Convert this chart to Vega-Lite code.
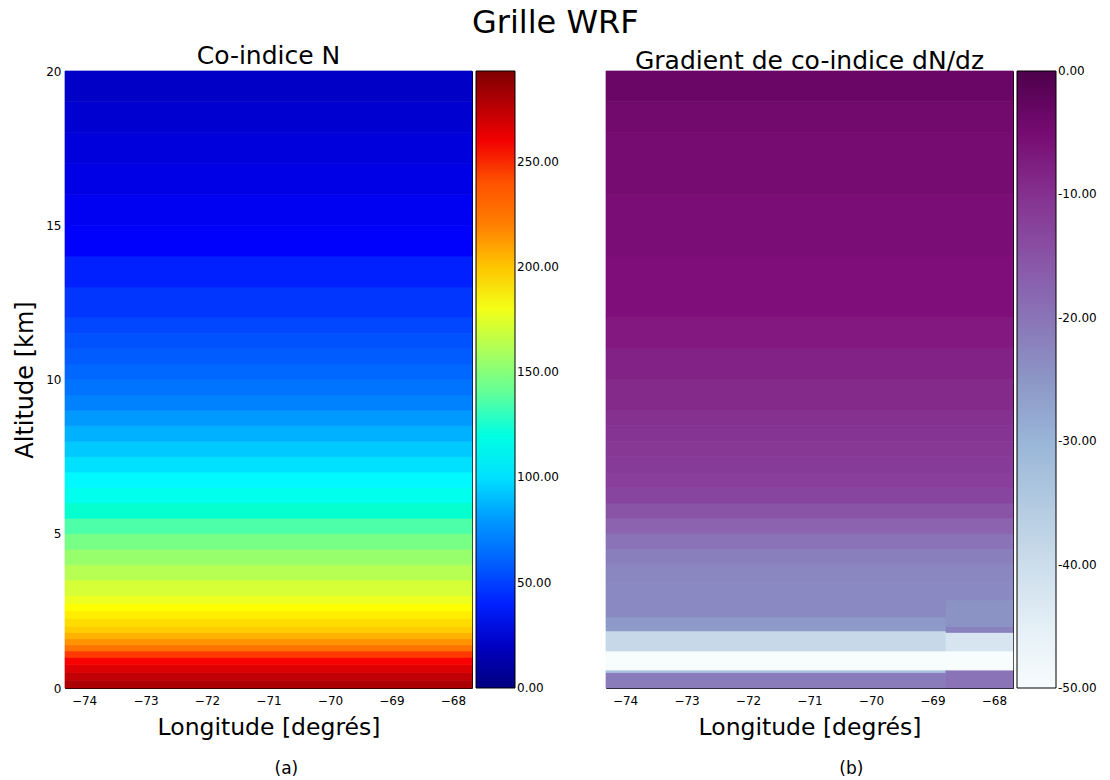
{
  "$schema": "https://vega.github.io/schema/vega-lite/v6.json",
  "background": "white",
  "padding": {"left": 13, "top": 6, "right": 5, "bottom": 5},
  "title": {"text": "Grille WRF", "fontSize": 32, "fontWeight": "normal", "anchor": "middle", "offset": 3.5, "color": "#000"},
  "config": {
    "font": "DejaVu Sans",
    "view": {"stroke": "#000", "strokeWidth": 1},
    "axis": {"zindex": 1, "domain": false, "ticks": true, "tickSize": -5, "tickColor": "#000", "tickWidth": 1, "labelPadding": 9, "labelFontSize": 12, "labelColor": "#000", "titleFontSize": 24, "titleFontWeight": "normal", "titleColor": "#000", "grid": false},
    "axisX": {"labelPadding": 12, "titlePadding": 9, "titleFontSize": 23.5},
    "axisY": {"titlePadding": 8},
    "legend": {"gradientLength": 617, "gradientThickness": 39, "gradientStrokeColor": "#000", "gradientStrokeWidth": 1, "labelFontSize": 12, "labelOffset": 4, "offset": 4, "padding": 0, "labelColor": "#000"},
    "title": {"fontWeight": "normal", "color": "#000"}
  },
  "datasets": {
    "n": [
      {"lon0": -74.31, "lon1": -67.69, "z0": 0, "z1": 0.25, "N": 280},
      {"lon0": -74.31, "lon1": -67.69, "z0": 0.25, "z1": 0.5, "N": 274},
      {"lon0": -74.31, "lon1": -67.69, "z0": 0.5, "z1": 0.75, "N": 266},
      {"lon0": -74.31, "lon1": -67.69, "z0": 0.75, "z1": 1.0, "N": 258},
      {"lon0": -74.31, "lon1": -67.69, "z0": 1.0, "z1": 1.2, "N": 248},
      {"lon0": -74.31, "lon1": -67.69, "z0": 1.2, "z1": 1.4, "N": 226},
      {"lon0": -74.31, "lon1": -67.69, "z0": 1.4, "z1": 1.6, "N": 214},
      {"lon0": -74.31, "lon1": -67.69, "z0": 1.6, "z1": 1.8, "N": 205},
      {"lon0": -74.31, "lon1": -67.69, "z0": 1.8, "z1": 2.0, "N": 198},
      {"lon0": -74.31, "lon1": -67.69, "z0": 2.0, "z1": 2.25, "N": 193},
      {"lon0": -74.31, "lon1": -67.69, "z0": 2.25, "z1": 2.5, "N": 188},
      {"lon0": -74.31, "lon1": -67.69, "z0": 2.5, "z1": 2.75, "N": 183},
      {"lon0": -74.31, "lon1": -67.69, "z0": 2.75, "z1": 3.0, "N": 178},
      {"lon0": -74.31, "lon1": -67.69, "z0": 3.0, "z1": 3.5, "N": 172},
      {"lon0": -74.31, "lon1": -67.69, "z0": 3.5, "z1": 4.0, "N": 163},
      {"lon0": -74.31, "lon1": -67.69, "z0": 4.0, "z1": 4.5, "N": 154},
      {"lon0": -74.31, "lon1": -67.69, "z0": 4.5, "z1": 5.0, "N": 145},
      {"lon0": -74.31, "lon1": -67.69, "z0": 5.0, "z1": 5.5, "N": 136},
      {"lon0": -74.31, "lon1": -67.69, "z0": 5.5, "z1": 6.0, "N": 126},
      {"lon0": -74.31, "lon1": -67.69, "z0": 6.0, "z1": 6.5, "N": 117},
      {"lon0": -74.31, "lon1": -67.69, "z0": 6.5, "z1": 7.0, "N": 108},
      {"lon0": -74.31, "lon1": -67.69, "z0": 7.0, "z1": 7.5, "N": 100},
      {"lon0": -74.31, "lon1": -67.69, "z0": 7.5, "z1": 8.0, "N": 93},
      {"lon0": -74.31, "lon1": -67.69, "z0": 8.0, "z1": 8.5, "N": 86},
      {"lon0": -74.31, "lon1": -67.69, "z0": 8.5, "z1": 9.0, "N": 80},
      {"lon0": -74.31, "lon1": -67.69, "z0": 9.0, "z1": 9.5, "N": 74},
      {"lon0": -74.31, "lon1": -67.69, "z0": 9.5, "z1": 10.0, "N": 68},
      {"lon0": -74.31, "lon1": -67.69, "z0": 10.0, "z1": 10.5, "N": 63},
      {"lon0": -74.31, "lon1": -67.69, "z0": 10.5, "z1": 11.0, "N": 58},
      {"lon0": -74.31, "lon1": -67.69, "z0": 11.0, "z1": 11.5, "N": 54},
      {"lon0": -74.31, "lon1": -67.69, "z0": 11.5, "z1": 12.0, "N": 50},
      {"lon0": -74.31, "lon1": -67.69, "z0": 12.0, "z1": 13.0, "N": 45},
      {"lon0": -74.31, "lon1": -67.69, "z0": 13.0, "z1": 14.0, "N": 40},
      {"lon0": -74.31, "lon1": -67.69, "z0": 14.0, "z1": 15.0, "N": 36},
      {"lon0": -74.31, "lon1": -67.69, "z0": 15.0, "z1": 16.0, "N": 33},
      {"lon0": -74.31, "lon1": -67.69, "z0": 16.0, "z1": 17.0, "N": 30},
      {"lon0": -74.31, "lon1": -67.69, "z0": 17.0, "z1": 18.0, "N": 27},
      {"lon0": -74.31, "lon1": -67.69, "z0": 18.0, "z1": 19.0, "N": 24},
      {"lon0": -74.31, "lon1": -67.69, "z0": 19.0, "z1": 20.0, "N": 21}
    ],
    "g": [
      {"lon0": -74.31, "lon1": -68.78, "z0": 0, "z1": 0.5, "dNdz": -21},
      {"lon0": -74.31, "lon1": -68.78, "z0": 0.5, "z1": 0.58, "dNdz": -33},
      {"lon0": -74.31, "lon1": -68.78, "z0": 0.58, "z1": 1.2, "dNdz": -50},
      {"lon0": -74.31, "lon1": -68.78, "z0": 1.2, "z1": 1.85, "dNdz": -39},
      {"lon0": -74.31, "lon1": -68.78, "z0": 1.85, "z1": 2.0, "dNdz": -26},
      {"lon0": -74.31, "lon1": -68.78, "z0": 2.0, "z1": 2.3, "dNdz": -25.5},
      {"lon0": -74.31, "lon1": -68.78, "z0": 2.3, "z1": 2.85, "dNdz": -23},
      {"lon0": -68.78, "lon1": -67.69, "z0": 0, "z1": 0.58, "dNdz": -20},
      {"lon0": -68.78, "lon1": -67.69, "z0": 0.58, "z1": 1.2, "dNdz": -50},
      {"lon0": -68.78, "lon1": -67.69, "z0": 1.2, "z1": 1.8, "dNdz": -42},
      {"lon0": -68.78, "lon1": -67.69, "z0": 1.8, "z1": 2.0, "dNdz": -22},
      {"lon0": -68.78, "lon1": -67.69, "z0": 2.0, "z1": 2.85, "dNdz": -24.5},
      {"lon0": -74.31, "lon1": -67.69, "z0": 2.85, "z1": 3.5, "dNdz": -23},
      {"lon0": -74.31, "lon1": -67.69, "z0": 3.5, "z1": 4.0, "dNdz": -22.5},
      {"lon0": -74.31, "lon1": -67.69, "z0": 4.0, "z1": 4.5, "dNdz": -21.5},
      {"lon0": -74.31, "lon1": -67.69, "z0": 4.5, "z1": 5.0, "dNdz": -20},
      {"lon0": -74.31, "lon1": -67.69, "z0": 5.0, "z1": 5.5, "dNdz": -17.5},
      {"lon0": -74.31, "lon1": -67.69, "z0": 5.5, "z1": 6.0, "dNdz": -15},
      {"lon0": -74.31, "lon1": -67.69, "z0": 6.0, "z1": 6.5, "dNdz": -13},
      {"lon0": -74.31, "lon1": -67.69, "z0": 6.5, "z1": 7.0, "dNdz": -12},
      {"lon0": -74.31, "lon1": -67.69, "z0": 7.0, "z1": 7.5, "dNdz": -11.5},
      {"lon0": -74.31, "lon1": -67.69, "z0": 7.5, "z1": 8.0, "dNdz": -11},
      {"lon0": -74.31, "lon1": -67.69, "z0": 8.0, "z1": 8.5, "dNdz": -10.5},
      {"lon0": -74.31, "lon1": -67.69, "z0": 8.5, "z1": 9.0, "dNdz": -10},
      {"lon0": -74.31, "lon1": -67.69, "z0": 9.0, "z1": 10.0, "dNdz": -9},
      {"lon0": -74.31, "lon1": -67.69, "z0": 10.0, "z1": 11.0, "dNdz": -8},
      {"lon0": -74.31, "lon1": -67.69, "z0": 11.0, "z1": 12.0, "dNdz": -7},
      {"lon0": -74.31, "lon1": -67.69, "z0": 12.0, "z1": 14.0, "dNdz": -6},
      {"lon0": -74.31, "lon1": -67.69, "z0": 14.0, "z1": 16.0, "dNdz": -5.5},
      {"lon0": -74.31, "lon1": -67.69, "z0": 16.0, "z1": 18.0, "dNdz": -5},
      {"lon0": -74.31, "lon1": -67.69, "z0": 18.0, "z1": 19.0, "dNdz": -4.5},
      {"lon0": -74.31, "lon1": -67.69, "z0": 19.0, "z1": 20.0, "dNdz": -3.5}
    ]
  },
  "spacing": 45,
  "resolve": {"scale": {"color": "independent"}},
  "hconcat": [
    {
      "title": {"text": "(a)", "orient": "bottom", "fontSize": 17, "offset": 22, "anchor": "middle"},
      "resolve": {"scale": {"color": "independent"}},
      "vconcat": [
        {
          "name": "left",
          "width": 407,
          "height": 617,
          "title": {"text": "Co-indice N", "fontSize": 25, "offset": -3.5},
          "data": {"name": "n"},
          "mark": {"type": "rect", "stroke": {"expr": "scale('left_color', datum.N)"}, "strokeWidth": 0.7},
          "encoding": {
            "x": {"field": "lon0", "type": "quantitative", "scale": {"domain": [-74.31, -67.69], "nice": false, "zero": false}, "axis": {"values": [-74, -73, -72, -71, -70, -69, -68], "title": "Longitude [degrés]"}},
            "x2": {"field": "lon1"},
            "y": {"field": "z0", "type": "quantitative", "scale": {"domain": [0, 20], "nice": false, "zero": false}, "axis": {"values": [0, 5, 10, 15, 20], "format": "d", "title": "Altitude [km]"}},
            "y2": {"field": "z1"},
            "color": {"field": "N", "type": "quantitative",
              "scale": {"type": "linear", "domain": [0, 36.6, 73.3, 109.9, 146.5, 183.1, 219.8, 256.4, 293], "range": ["#00007f", "#0000ff", "#007fff", "#00ffff", "#7fff7f", "#ffff00", "#ff7f00", "#ff0000", "#7f0000"]},
              "legend": {"type": "gradient", "title": null, "values": [0, 50, 100, 150, 200, 250], "format": ".2f", "direction": "vertical", "orient": "right",
                "encode": {"labels": {"update": {"baseline": {"value": "middle"}}}}}}
          }
        }
      ]
    },
    {
      "title": {"text": "(b)", "orient": "bottom", "fontSize": 17, "offset": 22, "anchor": "middle"},
      "resolve": {"scale": {"color": "independent"}},
      "vconcat": [
        {
          "name": "right",
          "width": 407,
          "height": 617,
          "title": {"text": "Gradient de co-indice dN/dz", "fontSize": 25, "offset": -3.5},
          "data": {"name": "g"},
          "mark": {"type": "rect", "stroke": {"expr": "scale('right_color', datum.dNdz)"}, "strokeWidth": 0.7},
          "encoding": {
            "x": {"field": "lon0", "type": "quantitative", "scale": {"domain": [-74.31, -67.69], "nice": false, "zero": false}, "axis": {"values": [-74, -73, -72, -71, -70, -69, -68], "title": "Longitude [degrés]"}},
            "x2": {"field": "lon1"},
            "y": {"field": "z0", "type": "quantitative", "scale": {"domain": [0, 20], "nice": false, "zero": false}, "axis": null},
            "y2": {"field": "z1"},
            "color": {"field": "dNdz", "type": "quantitative",
              "scale": {"type": "linear", "domain": [-50, -43.75, -37.5, -31.25, -25, -18.75, -12.5, -6.25, 0], "range": ["#f7fcfd", "#e0ecf4", "#bfd3e6", "#9ebcda", "#8c96c6", "#8c6bb1", "#88419d", "#810f7c", "#4d004b"]},
              "legend": {"type": "gradient", "title": null, "values": [-50, -40, -30, -20, -10, 0], "format": ".2f", "labelExpr": "replace(datum.label, '−', '-')", "direction": "vertical", "orient": "right",
                "encode": {"labels": {"update": {"baseline": {"value": "middle"}}}}}}
          }
        }
      ]
    }
  ]
}
